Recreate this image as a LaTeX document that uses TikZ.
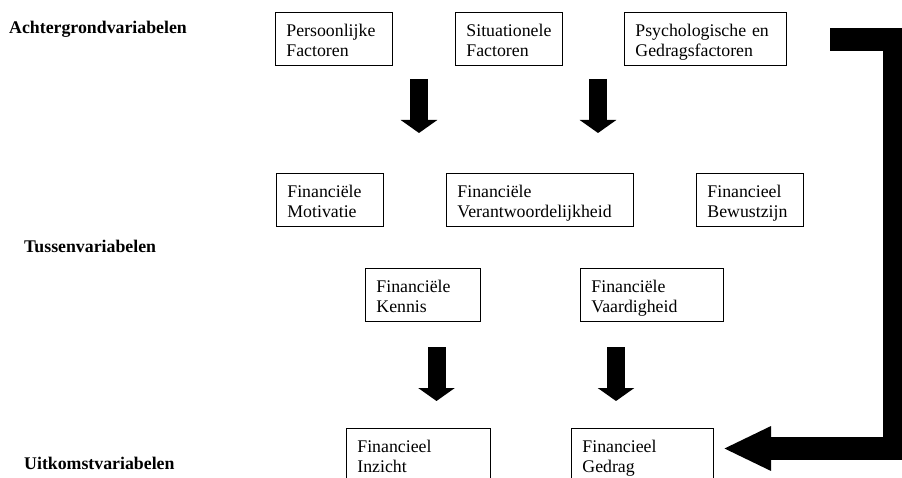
\documentclass[tikz,border=0pt]{standalone}
\usepackage{fontspec}
\setmainfont{Liberation Serif}
\usetikzlibrary{arrows.meta}
\def\boxfont{\fontsize{17.8}{20}\selectfont}

\begin{document}
\begin{tikzpicture}[x=1pt,y=-1pt,
    varbox/.style={draw,line width=0.8pt,anchor=north west,align=left,inner xsep=11pt,inner ysep=0pt,
        minimum height=53pt,text width=#1pt,text height=19pt,text depth=24pt,font=\boxfont},
    levellabel/.style={anchor=base west,inner sep=0pt,font=\boxfont\bfseries},
    downarrow/.style={line width=18pt,-{Triangle[width=36pt,length=13pt]}},
    bendarrow/.style={line width=23pt,-{Triangle[width=41pt,length=48pt]}}]
    \useasboundingbox (0,0) rectangle (902,478);

    \node[levellabel] (achtergrond) at (9,34) {Achtergrondvariabelen};
    \node[levellabel] (tussen) at (24,253) {Tussenvariabelen};
    \node[levellabel] (uitkomst) at (24,469) {Uitkomstvariabelen};

    \node[varbox=95] (pers) at (275,12) {Persoonlijke\\Factoren};
    \node[varbox=85] (situ) at (455,12) {Situationele\\Factoren};
    \node[varbox=140] (psych) at (624,12) {Psychologische en\\Gedragsfactoren};

    \node[varbox=85] (motiv) at (276,173) {Financiële\\Motivatie};
    \node[varbox=165] (verantw) at (446,173) {Financiële\\Verantwoordelijkheid};
    \node[varbox=85] (bewust) at (696,173) {Financieel\\Bewustzijn};

    \node[varbox=93] (kennis) at (365,268) {Financiële\\Kennis};
    \node[varbox=121] (vaard) at (580,268) {Financiële\\Vaardigheid};

    \node[varbox=122] (inzicht) at (346,428) {Financieel\\Inzicht};
    \node[varbox=120] (gedrag) at (571,428) {Financieel\\Gedrag};

    \coordinate (pijlatop) at (419,79);
    \coordinate (pijlaend) at (419,133);
    \coordinate (pijlbtop) at (598,79);
    \coordinate (pijlbend) at (598,133);
    \coordinate (pijlctop) at (436.5,347);
    \coordinate (pijlcend) at (436.5,401);
    \coordinate (pijldtop) at (616,347);
    \coordinate (pijldend) at (616,401);
    \coordinate (bochtstart) at (830,39.5);
    \coordinate (bochthoek) at (894,448.5);
    \coordinate (bochtend) at (723,448.5);

    \draw[downarrow] (pijlatop) -- (pijlaend);
    \draw[downarrow] (pijlbtop) -- (pijlbend);
    \draw[downarrow] (pijlctop) -- (pijlcend);
    \draw[downarrow] (pijldtop) -- (pijldend);
    \draw[bendarrow] (bochtstart) -| (bochthoek) -- (bochtend);
\end{tikzpicture}
\end{document}
